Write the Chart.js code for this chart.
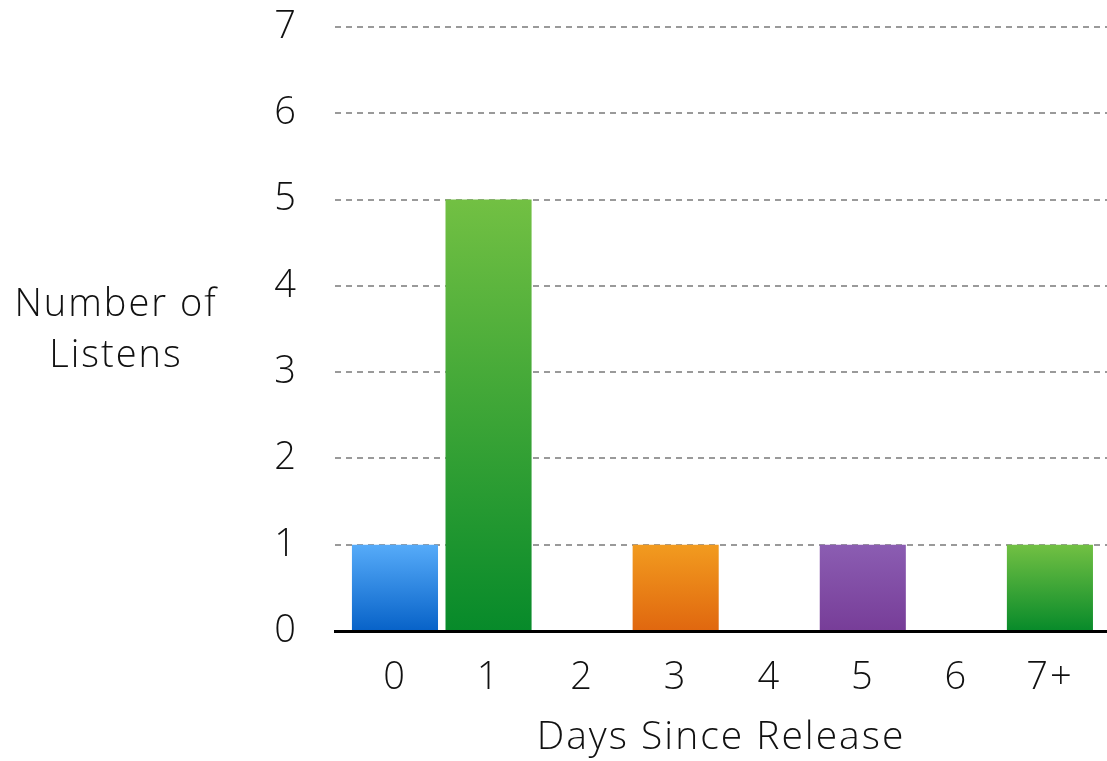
<!DOCTYPE html>
<html>
<head>
<meta charset="utf-8">
<title>Number of Listens by Days Since Release</title>
<script src="https://cdn.jsdelivr.net/npm/chart.js@4.4.1/dist/chart.umd.min.js"></script>
<style>
  html, body { margin: 0; padding: 0; background: #fff; }
  #wrap { width: 1107px; height: 761px; position: relative; }
</style>
</head>
<body>
<div id="wrap"><canvas id="chart"></canvas></div>
<script>
// Days since release and how many listens fell on each day
const categories = ['0', '1', '2', '3', '4', '5', '6', '7+'];
const listens = [1, 5, 0, 1, 0, 1, 0, 1];
const yTicks = [0, 1, 2, 3, 4, 5, 6, 7];
const yTitleLines = ['Number of', 'Listens'];
const xTitle = 'Days Since Release';

// Per-bar gradient colours (top, bottom)
const topColors = ['#56abf9', '#72c043', '#72c043', '#f29b1f', '#8b5db2', '#8b5db2', '#72c043', '#72c043'];
const bottomColors = ['#0762c8', '#078a2a', '#078a2a', '#e0670f', '#773d98', '#773d98', '#078a2a', '#078a2a'];

const FONT = "'Helvetica Neue', 'Open Sans', Roboto, 'Liberation Sans', sans-serif";
const FONT_SIZE = 38;
const LETTER_SPACING = '2px';

function barGradient(ctx) {
  const chart = ctx.chart;
  const i = ctx.dataIndex;
  if (!chart.chartArea || !chart.scales.y) return bottomColors[i];
  const y = chart.scales.y;
  const top = y.getPixelForValue(listens[i]);
  const base = y.getPixelForValue(0);
  if (base - top < 1) return bottomColors[i];
  const g = chart.ctx.createLinearGradient(0, top, 0, base);
  g.addColorStop(0, topColors[i]);
  g.addColorStop(1, bottomColors[i]);
  return g;
}

// Slightly looser text tracking for all chart labels
const tracking = {
  id: 'tracking',
  beforeUpdate(chart) { chart.ctx.letterSpacing = LETTER_SPACING; },
  beforeDraw(chart) { chart.ctx.letterSpacing = LETTER_SPACING; }
};

// Horizontal y-axis title to the left of the tick labels
const sideTitle = {
  id: 'sideTitle',
  afterDraw(chart) {
    const { ctx, chartArea } = chart;
    const cx = 116;
    const cy = (chartArea.top + chartArea.bottom) / 2 + 2;
    const lh = 51;
    ctx.save();
    ctx.letterSpacing = LETTER_SPACING;
    ctx.font = '300 ' + FONT_SIZE + 'px ' + FONT;
    ctx.fillStyle = '#111';
    ctx.textAlign = 'center';
    ctx.textBaseline = 'middle';
    yTitleLines.forEach((line, k) => {
      ctx.fillText(line, cx, cy + (k - (yTitleLines.length - 1) / 2) * lh);
    });
    ctx.restore();
  }
};

new Chart(document.getElementById('chart'), {
  type: 'bar',
  data: {
    datasets: [{
      data: listens.map((v, i) => ({ x: i, y: v })),
      backgroundColor: barGradient,
      borderWidth: 0,
      barPercentage: 0.92,
      categoryPercentage: 1.0
    }]
  },
  options: {
    responsive: true,
    maintainAspectRatio: false,
    animation: false,
    layout: { padding: { left: 275, top: 27, right: 0, bottom: 0 } },
    plugins: {
      legend: { display: false },
      tooltip: { enabled: false }
    },
    scales: {
      x: {
        type: 'linear',
        offset: false,
        min: -0.641,
        max: 7.61,
        afterBuildTicks(scale) {
          scale.ticks = categories.map((_, i) => ({ value: i }));
        },
        afterFit(scale) {
          scale.height = 130;
          scale.paddingLeft = 0;
          scale.paddingRight = 0;
        },
        grid: { display: false, drawTicks: false },
        border: { display: true, color: '#000', width: 3 },
        ticks: {
          autoSkip: false,
          maxRotation: 0,
          padding: 24,
          color: '#111',
          font: { family: FONT, size: FONT_SIZE, weight: '300' },
          callback: (v) => categories[v]
        },
        title: {
          display: true,
          text: xTitle,
          color: '#111',
          font: { family: FONT, size: 39, weight: '300' },
          padding: { top: 0, bottom: 0 }
        }
      },
      y: {
        min: 0,
        max: 7,
        afterBuildTicks(scale) {
          scale.ticks = yTicks.map(v => ({ value: v }));
        },
        afterFit(scale) {
          scale.width = 60;
          scale.paddingTop = 0;
          scale.paddingBottom = 0;
        },
        grid: {
          color: (c) => (c.tick && c.tick.value === 0 ? 'rgba(0,0,0,0)' : '#9a9a9a'),
          lineWidth: 2,
          drawTicks: false
        },
        border: { display: false, dash: [6, 5] },
        ticks: {
          padding: 37,
          color: '#111',
          font: { family: FONT, size: FONT_SIZE, weight: '300' }
        }
      }
    }
  },
  plugins: [tracking, sideTitle]
});
</script>
</body>
</html>
